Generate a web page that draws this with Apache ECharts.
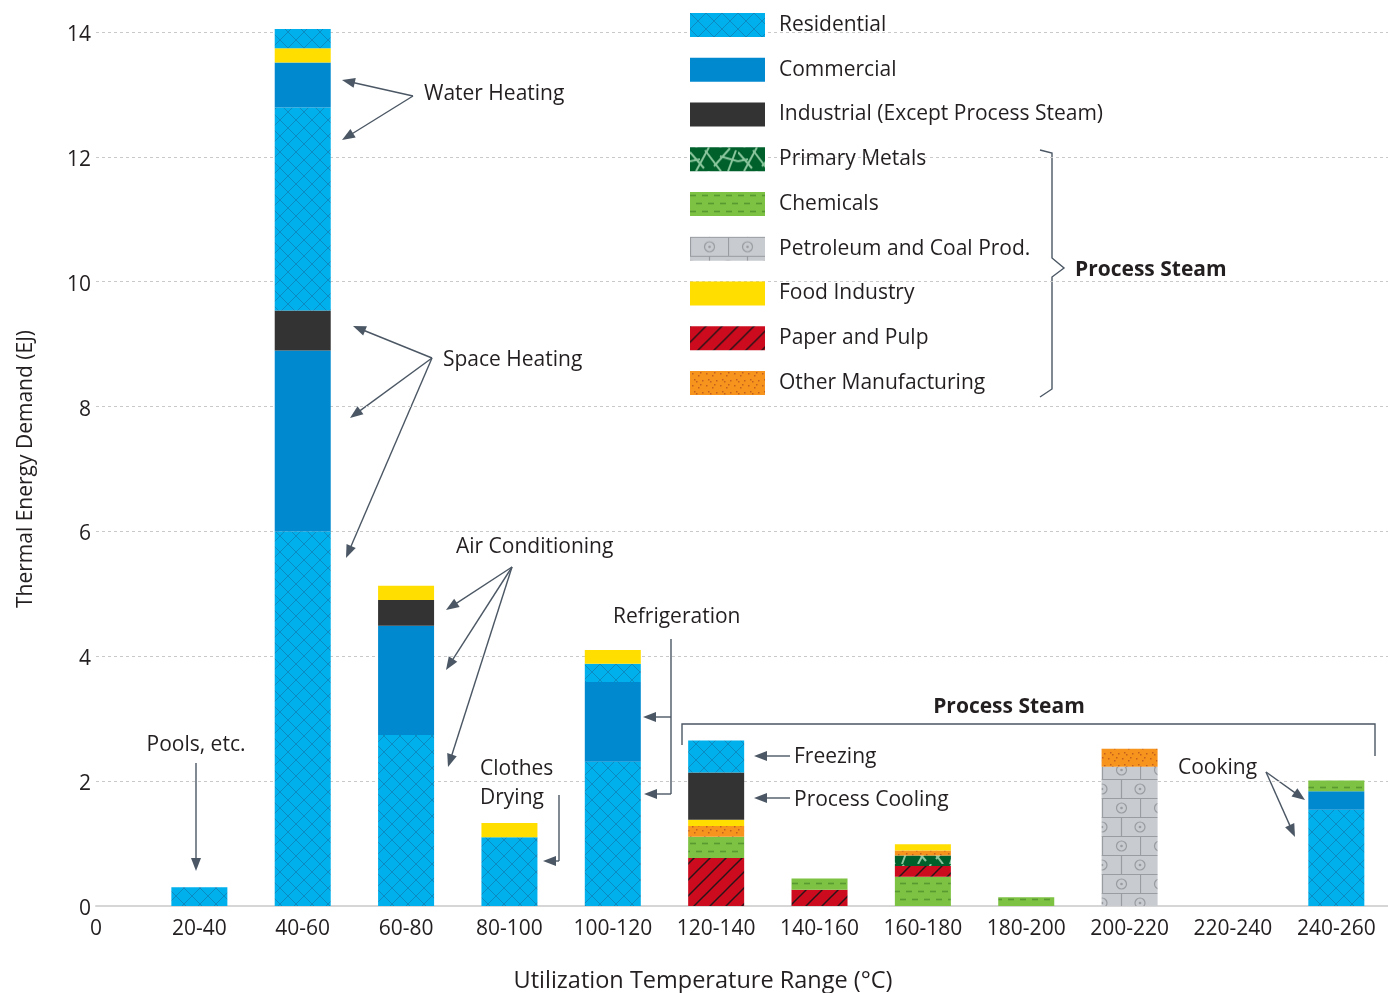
<!DOCTYPE html>
<html><head><meta charset="utf-8">
<script src="https://cdn.jsdelivr.net/npm/echarts@6/dist/echarts.min.js"></script>
<style>html,body{margin:0;padding:0;background:#fff}#c{width:1388px;height:993px}</style>
</head><body><div id="c"></div><script>
// ---------- DATA ----------
const categories = ['20-40','40-60','60-80','80-100','100-120','120-140','140-160','160-180','180-200','200-220','220-240','240-260'];
const originLabel = '0';
const yTicks = [0, 2, 4, 6, 8, 10, 12, 14];
// stacked segments, bottom to top (EJ), one value per category
const residentialA = [0.30, 6.00, 2.74, 1.10, 2.31, 0, 0, 0, 0, 0, 0, 1.54];
const commercialA  = [0, 2.90, 1.75, 0, 1.28, 0, 0, 0, 0, 0, 0, 0.30];
const petroleum    = [0, 0, 0, 0, 0, 0, 0, 0, 0, 2.23, 0, 0];
const paperA       = [0, 0, 0, 0, 0, 0.77, 0.26, 0, 0, 0, 0, 0];
const chemicals    = [0, 0, 0, 0, 0, 0.34, 0.18, 0.47, 0.14, 0, 0, 0.17];
const paperB       = [0, 0, 0, 0, 0, 0, 0, 0.17, 0, 0, 0, 0];
const metals       = [0, 0, 0, 0, 0, 0, 0, 0.17, 0, 0, 0, 0];
const otherMfg     = [0, 0, 0, 0, 0, 0.17, 0, 0.08, 0, 0.29, 0, 0];
const foodA        = [0, 0, 0, 0, 0, 0.10, 0, 0.10, 0, 0, 0, 0];
const industrial   = [0, 0.64, 0.41, 0, 0, 0.76, 0, 0, 0, 0, 0, 0];
const residentialB = [0, 3.25, 0, 0, 0.29, 0.51, 0, 0, 0, 0, 0, 0];
const commercialB  = [0, 0.72, 0, 0, 0, 0, 0, 0, 0, 0, 0, 0];
const foodB        = [0, 0.23, 0.23, 0.23, 0.22, 0, 0, 0, 0, 0, 0, 0];
const residentialC = [0, 0.31, 0, 0, 0, 0, 0, 0, 0, 0, 0, 0];

const N = {
  res: 'Residential', com: 'Commercial', ind: 'Industrial (Except Process Steam)',
  met: 'Primary Metals', chem: 'Chemicals', pet: 'Petroleum and Coal Prod.',
  food: 'Food Industry', paper: 'Paper and Pulp', other: 'Other Manufacturing'
};

// ---------- PATTERNS ----------
function tile(w, h, bg, draw) {
  const c = document.createElement('canvas'); c.width = w; c.height = h;
  const g = c.getContext('2d'); g.fillStyle = bg; g.fillRect(0, 0, w, h);
  draw(g); return { image: c, repeat: 'repeat' };
}
function ln(g, pts) { g.beginPath(); g.moveTo(pts[0], pts[1]); for (let i = 2; i < pts.length; i += 2) g.lineTo(pts[i], pts[i + 1]); g.stroke(); }
const F = {};
F.res = tile(16, 16, '#00b0ec', g => { g.strokeStyle = 'rgba(20,110,160,0.55)'; g.lineWidth = 1; ln(g, [0, 0, 16, 16]); ln(g, [16, 0, 0, 16]); });
F.com = '#0089cf';
F.ind = '#333333';
F.food = '#ffde00';
F.met = tile(48, 24, '#00602c', g => {
  g.strokeStyle = '#8cc79e'; g.lineWidth = 2;
  ln(g, [0, 5, 14, 21]); ln(g, [6, 24, 19, 0]); ln(g, [15, 3, 31, 24]); ln(g, [24, 19, 40, 1]);
  ln(g, [30, 9, 48, 14]); ln(g, [38, 24, 46, 3]); ln(g, [0, 14, 10, 12]);
});
F.chem = tile(12, 16, '#7dc242', g => { g.strokeStyle = '#5a9832'; g.lineWidth = 1.6; ln(g, [0, 3.5, 6, 3.5]); ln(g, [6, 11.5, 12, 11.5]); });
F.pet = tile(38, 38, '#c8cbcf', g => {
  g.strokeStyle = '#999ca0'; g.lineWidth = 1.2;
  ln(g, [0, 0.5, 38, 0.5]); ln(g, [0, 19.5, 38, 19.5]); ln(g, [0.5, 0, 0.5, 19]); ln(g, [19.5, 19, 19.5, 38]);
  const circ = (x, y) => { g.beginPath(); g.arc(x, y, 5, 0, Math.PI * 2); g.stroke(); g.beginPath(); g.fillStyle = '#999ca0'; g.arc(x, y, 1.3, 0, Math.PI * 2); g.fill(); };
  circ(19.5, 10); circ(0, 29); circ(38, 29);
});
F.paper = tile(16, 16, '#cc0b1e', g => { g.strokeStyle = '#2b1418'; g.lineWidth = 1.5; ln(g, [-2, 18, 18, -2]); ln(g, [14, 18, 18, 14]); ln(g, [-2, 2, 2, -2]); });
F.other = tile(14, 12, '#f7941e', g => {
  g.fillStyle = '#c2601c';
  [[2, 2], [8, 4], [12, 9], [4, 8], [10, 1], [6, 10]].forEach(p => g.fillRect(p[0], p[1], 1.5, 1.5));
});

// ---------- SERIES ----------
const layers = [
  ['res', residentialA], ['com', commercialA], ['pet', petroleum], ['paper', paperA],
  ['chem', chemicals], ['paper', paperB], ['met', metals], ['other', otherMfg],
  ['food', foodA], ['ind', industrial], ['res', residentialB], ['com', commercialB],
  ['food', foodB], ['res', residentialC]
];
const series = layers.map(([k, arr]) => ({
  type: 'bar', name: N[k], stack: 'total', barWidth: 56, clip: false,
  xAxisIndex: 1, yAxisIndex: 1,
  itemStyle: { color: F[k] },
  data: arr.map((v, i) => [categories[i], v]),
  emphasis: { disabled: true }
}));

// ---------- ANNOTATIONS ----------
const FAM = '"Open Sans", Lato, sans-serif';
const AC = '#4b5764';
const FONT = '21px ' + FAM;
const BOLD = 'bold 21px ' + FAM;
const DY = 2;
const g = [];
function txt(t, x, y, opt) {
  g.push({ type: 'text', style: Object.assign({ text: t, x, y: y + DY, font: FONT, fill: '#231f20', textVerticalAlign: 'middle' }, opt || {}) });
}
function line(pts) {
  const p = []; for (let i = 0; i < pts.length; i += 2) p.push([pts[i], pts[i + 1]]);
  g.push({ type: 'polyline', shape: { points: p }, style: { stroke: AC, lineWidth: 1.4, fill: null } });
}
function arrow(x1, y1, x2, y2) {
  const a = Math.atan2(y2 - y1, x2 - x1), L = 13, W = 5;
  const bx = x2 - L * Math.cos(a), by = y2 - L * Math.sin(a);
  line([x1, y1, bx + 3 * Math.cos(a), by + 3 * Math.sin(a)]);
  g.push({ type: 'polygon', shape: { points: [[x2, y2], [bx - W * Math.sin(a), by + W * Math.cos(a)], [bx + W * Math.sin(a), by - W * Math.cos(a)]] }, style: { fill: AC } });
}
txt('Water Heating', 424, 92);
arrow(413, 96, 342, 80); arrow(413, 96, 342, 140);
txt('Space Heating', 443, 358);
arrow(432, 358, 353, 326); arrow(432, 358, 350, 418); arrow(432, 358, 346, 558);
txt('Air Conditioning', 456, 545);
arrow(512, 567, 446, 610); arrow(512, 567, 446, 670); arrow(512, 567, 448, 767);
txt('Pools, etc.', 196, 743, { textAlign: 'center' });
arrow(196, 763, 196, 871);
txt('Clothes', 480, 767); txt('Drying', 480, 796);
line([559, 795, 559, 861]); arrow(559, 861, 543, 861);
txt('Refrigeration', 613, 615);
line([671, 639, 671, 794]); arrow(671, 717, 643, 717); arrow(671, 794, 644, 794);
txt('Process Steam', 1009, 705, { textAlign: 'center', font: BOLD });
line([682, 745, 682, 724, 1375, 724, 1375, 756]);
txt('Freezing', 794, 755); arrow(790, 756, 754, 756);
txt('Process Cooling', 794, 798); arrow(790, 798, 754, 798);
txt('Cooking', 1178, 766);
arrow(1266, 772, 1305, 800); arrow(1266, 772, 1295, 837);
// legend brace
line([1040, 150, 1052, 153, 1052, 258, 1064, 268, 1052, 277, 1052, 389, 1040, 397]);
txt('Process Steam', 1075, 268, { font: BOLD });
txt('Utilization Temperature Range (°C)', 703, 979, { textAlign: 'center', font: '23.5px ' + FAM });

// ---------- CHART ----------
const GRID_TOP = 32, GRID_BOTTOM = 87, PLOT_LEFT = 96;
const band = (1388 - PLOT_LEFT) / (categories.length + 0.5);
const chart = echarts.init(document.getElementById('c'), null, { renderer: 'canvas' });
chart.setOption({
  animation: false,
  backgroundColor: '#fff',
  textStyle: { fontFamily: FAM },
  grid: [
    { left: PLOT_LEFT, right: 0, top: GRID_TOP, bottom: GRID_BOTTOM },
    { left: PLOT_LEFT - band / 2, right: 0, top: GRID_TOP, bottom: GRID_BOTTOM }
  ],
  legend: {
    data: [N.res, N.com, N.ind, N.met, N.chem, N.pet, N.food, N.paper, N.other],
    orient: 'vertical', left: 690, top: 13, padding: 0,
    itemWidth: 75, itemHeight: 24, itemGap: 20.75, icon: 'rect', selectedMode: false,
    textStyle: { fontSize: 21, color: '#231f20', padding: [0, 0, 0, 9], verticalAlign: 'top', lineHeight: 4 }
  },
  xAxis: [
    {
      gridIndex: 0, type: 'value', min: 0, max: 1,
      axisLine: { show: true, lineStyle: { color: '#d6d6d6', width: 2 } },
      axisTick: { show: false }, splitLine: { show: false }, axisLabel: { show: false }
    },
    {
      gridIndex: 1, type: 'category', data: [originLabel].concat(categories),
      axisLine: { show: false }, axisTick: { show: false }, splitLine: { show: false },
      axisLabel: { fontSize: 21, color: '#231f20', margin: 13, interval: 0 }
    }
  ],
  yAxis: [
    {
      gridIndex: 0, type: 'value', min: yTicks[0], max: yTicks[yTicks.length - 1], interval: 2,
      name: 'Thermal Energy Demand (EJ)', nameLocation: 'middle', nameGap: 59,
      nameTextStyle: { fontSize: 21, color: '#231f20' },
      axisLine: { show: false }, axisTick: { show: false },
      axisLabel: { fontSize: 21, color: '#231f20', margin: 5, verticalAlign: 'top', lineHeight: 6 },
      splitLine: { show: true, lineStyle: { color: '#c9c9c9', type: [3, 3], width: 1 } }
    },
    {
      gridIndex: 1, type: 'value', min: yTicks[0], max: yTicks[yTicks.length - 1], interval: 2,
      show: false, splitLine: { show: false }
    }
  ],
  series: series,
  graphic: g
});
</script></body></html>
